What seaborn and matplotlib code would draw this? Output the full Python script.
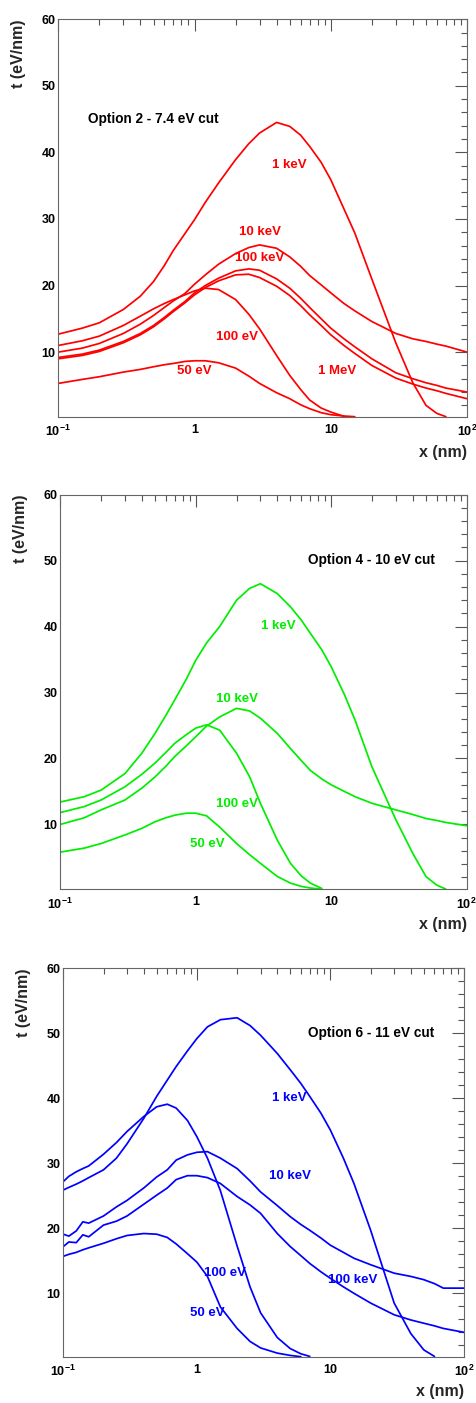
import numpy as np
import pandas as pd
import matplotlib
matplotlib.use("Agg")
import matplotlib.pyplot as plt
import matplotlib.ticker as mticker
import seaborn as sns

# ---------------------------------------------------------------
# Datos (x en nm, t en eV/nm)
# ---------------------------------------------------------------
N = None

# Option 2 - 7.4 eV cut (rojo)
x_opt2 = [0.1, 0.15, 0.2, 0.3, 0.4, 0.5, 0.6, 0.7, 0.85, 1, 1.2, 1.5, 2, 2.5, 3,
          4, 5, 6, 7, 8.5, 10, 12.5, 15, 20, 30, 40, 50, 60, 70, 100]
opt2_1kev = [12.7, 13.6, 14.4, 16.4, 18.4, 20.6, 23.0, 25.3, 27.8, 29.9, 32.5, 35.4, 38.9, 41.3, 42.9,
             44.5, 43.9, 42.6, 40.9, 38.5, 35.9, 31.5, 27.9, 21.0, 11.4, 5.4, 2.0, 0.8, 0.3, N]
opt2_10kev = [10.0, 10.6, 11.3, 12.8, 14.2, 15.5, 16.7, 17.7, 18.8, 20.2, 21.6, 23.2, 24.8, 25.7, 26.1,
              25.6, 24.3, 22.9, 21.5, 20.1, 18.9, 17.3, 16.2, 14.6, 12.8, 12.0, 11.6, 11.2, 10.9, 10.0]
opt2_100kev = [9.2, 9.7, 10.3, 11.6, 12.8, 14.0, 15.2, 16.3, 17.6, 18.9, 20.0, 21.1, 22.2, 22.5, 22.3,
               21.0, 19.6, 18.1, 16.7, 15.0, 13.6, 12.0, 10.8, 9.0, 6.9, 6.0, 5.4, 5.0, 4.6, 4.0]
opt2_1mev = [9.0, 9.5, 10.1, 11.4, 12.6, 13.8, 15.0, 16.1, 17.4, 18.6, 19.7, 20.7, 21.6, 21.7, 21.2,
             19.9, 18.5, 17.0, 15.6, 14.0, 12.6, 11.0, 9.8, 8.0, 6.1, 5.2, 4.6, 4.2, 3.8, 3.0]
opt2_100ev = [11.0, 11.7, 12.4, 14.0, 15.4, 16.5, 17.3, 17.9, 18.6, 19.2, 19.6, 19.4, 17.9, 15.7, 13.5,
              9.5, 6.5, 4.4, 2.8, 1.6, 1.0, 0.35, N, N, N, N, N, N, N, N]
opt2_50ev = [5.3, 5.9, 6.3, 7.0, 7.4, 7.8, 8.1, 8.3, 8.6, 8.7, 8.7, 8.4, 7.6, 6.4, 5.3,
             3.9, 3.0, 2.1, 1.5, 0.9, 0.6, 0.4, 0.3, N, N, N, N, N, N, N]

# Option 4 - 10 eV cut (verde)
x_opt4 = x_opt2
opt4_1kev = [13.4, 14.2, 15.2, 17.7, 20.8, 23.8, 26.5, 28.9, 32.0, 34.9, 37.5, 40.0, 44.0, 45.8, 46.5,
             45.0, 43.0, 41.0, 39.0, 36.5, 33.9, 29.7, 25.8, 18.7, 10.7, 5.6, 2.1, 0.8, 0.2, N]
opt4_10kev = [10.0, 11.0, 12.2, 13.7, 15.5, 17.2, 18.8, 20.3, 21.9, 23.3, 24.9, 26.3, 27.6, 27.2, 26.1,
              23.8, 21.5, 19.7, 18.2, 16.9, 16.0, 15.0, 14.2, 13.2, 12.2, 11.5, 10.9, 10.6, 10.3, 9.8]
opt4_100ev = [11.8, 12.7, 13.7, 15.7, 17.6, 19.3, 20.9, 22.3, 23.6, 24.6, 25.1, 24.3, 20.8, 17.2, 13.2,
              7.6, 4.1, 2.2, 1.1, 0.3, N, N, N, N, N, N, N, N, N, N]
opt4_50ev = [5.8, 6.4, 7.1, 8.4, 9.4, 10.4, 11.0, 11.4, 11.7, 11.7, 11.3, 9.6, 7.1, 5.4, 4.1,
             2.1, 1.1, 0.6, 0.35, 0.2, N, N, N, N, N, N, N, N, N, N]

# Option 6 - 11 eV cut (azul)
x_opt6 = [0.1, 0.11, 0.125, 0.14, 0.155, 0.2, 0.25, 0.3, 0.4, 0.5, 0.6, 0.7, 0.85, 1, 1.2, 1.5, 2, 2.5, 3,
          4, 5, 6, 7, 8.5, 10, 12.5, 15, 20, 30, 40, 50, 60, 70, 100]
opt6_1kev = [25.9, 26.3, 26.8, 27.3, 27.8, 29.0, 30.8, 33.0, 36.9, 40.3, 42.8, 44.9, 47.3, 49.2, 51.0, 52.1, 52.4, 51.2, 49.7,
             46.9, 44.4, 42.3, 40.3, 37.7, 35.1, 30.8, 26.9, 19.7, 8.5, 3.8, 1.3, 0.3, N, N]
opt6_10kev = [19.1, 18.8, 19.6, 21.0, 20.8, 21.9, 23.3, 24.3, 26.2, 27.9, 29.0, 30.5, 31.3, 31.7, 31.8, 30.8, 29.2, 27.3, 25.6,
              23.5, 21.8, 20.6, 19.7, 18.5, 17.4, 16.3, 15.4, 14.4, 13.1, 12.6, 12.1, 11.5, 10.8, 10.8]
opt6_100kev = [17.2, 17.9, 17.8, 19.0, 18.7, 20.5, 21.1, 21.9, 23.7, 25.1, 26.2, 27.5, 28.1, 28.1, 27.8, 26.9, 24.9, 23.6, 22.3,
               19.2, 17.2, 15.8, 14.6, 13.3, 12.3, 11.0, 10.0, 8.5, 6.7, 5.9, 5.4, 5.0, 4.6, 4.0]
opt6_100ev = [27.2, 28.0, 28.7, 29.2, 29.6, 31.4, 33.2, 34.9, 37.2, 38.7, 39.1, 38.5, 36.6, 34.1, 30.8, 25.8, 17.3, 11.0, 7.0,
              3.2, 1.5, 0.7, 0.3, N, N, N, N, N, N, N, N, N, N, N]
opt6_50ev = [15.7, 16.0, 16.3, 16.7, 17.0, 17.7, 18.4, 18.9, 19.2, 19.1, 18.6, 17.6, 16.1, 14.8, 12.6, 7.9, 4.6, 2.6, 1.6,
             0.8, 0.45, 0.25, N, N, N, N, N, N, N, N, N, N, N, N]

# Etiquetas: (texto, x, y)
labels_opt2 = [("1 keV", 4.95, 38.1), ("10 keV", 3.03, 28.1), ("100 keV", 3.03, 24.2),
               ("100 eV", 2.06, 12.2), ("50 eV", 1.0, 7.2), ("1 MeV", 11.1, 7.2)]
labels_opt4 = [("1 keV", 4.05, 40.1), ("10 keV", 2.02, 29.0), ("100 eV", 2.02, 13.1), ("50 eV", 1.21, 7.0)]
labels_opt6 = [("1 keV", 4.89, 40.0), ("10 keV", 4.97, 28.0), ("100 keV", 14.7, 12.1),
               ("100 eV", 1.62, 13.1), ("50 eV", 1.19, 7.0)]


def armar_df(x, curvas):
    filas = []
    for nombre, vals in curvas.items():
        for xi, yi in zip(x, vals):
            if yi is not None:
                filas.append({"x": xi, "t": yi, "energia": nombre})
    return pd.DataFrame(filas)


paneles = [
    dict(df=armar_df(x_opt2, {"1 keV": opt2_1kev, "10 keV": opt2_10kev, "100 keV": opt2_100kev,
                              "1 MeV": opt2_1mev, "100 eV": opt2_100ev, "50 eV": opt2_50ev}),
         color="#ff0000", labels=labels_opt2, title="Option 2 - 7.4 eV cut", tpos=(0.166, 45.0),
         rect=[0.1225, 0.7030, 0.8586, 0.2833], ymin=0.3),
    dict(df=armar_df(x_opt4, {"1 keV": opt4_1kev, "10 keV": opt4_10kev,
                              "100 eV": opt4_100ev, "50 eV": opt4_50ev}),
         color="#00ee00", labels=labels_opt4, title="Option 4 - 10 eV cut", tpos=(6.75, 50.1),
         rect=[0.1267, 0.3661, 0.8538, 0.2813], ymin=0.15),
    dict(df=armar_df(x_opt6, {"1 keV": opt6_1kev, "10 keV": opt6_10kev, "100 keV": opt6_100kev,
                              "100 eV": opt6_100ev, "50 eV": opt6_50ev}),
         color="#0000ff", labels=labels_opt6, title="Option 6 - 11 eV cut", tpos=(6.79, 50.0),
         rect=[0.1330, 0.0330, 0.8418, 0.2768], ymin=0.25),
]

sns.set_theme(style="white")
plt.rcParams["font.family"] = ["Liberation Sans", "DejaVu Sans"]
plt.rcParams["font.weight"] = "bold"
plt.rcParams["mathtext.fontset"] = "custom"
plt.rcParams["mathtext.rm"] = "Liberation Sans:bold"
plt.rcParams["mathtext.default"] = "rm"

fig = plt.figure(figsize=(4.76, 14.03), dpi=100)

for p in paneles:
    ax = fig.add_axes(p["rect"])
    sns.lineplot(data=p["df"], x="x", y="t", units="energia", estimator=None, sort=False,
                 color=p["color"], linewidth=1.25, ax=ax, legend=False)
    ax.set_xscale("log")
    ax.set_xlim(0.1, 100)
    ax.set_ylim(p["ymin"], 60)

    ax.xaxis.set_major_locator(mticker.FixedLocator([0.1, 1, 10, 100]))
    ax.xaxis.set_major_formatter(mticker.FixedFormatter(["10$^{-1}$", "1", "10", "10$^{2}$"]))
    ax.xaxis.set_minor_locator(mticker.LogLocator(base=10, subs=np.arange(2, 10)))
    ax.xaxis.set_minor_formatter(mticker.NullFormatter())
    ax.yaxis.set_major_locator(mticker.MultipleLocator(10))
    ax.yaxis.set_minor_locator(mticker.MultipleLocator(2))

    ax.tick_params(which="both", direction="in", top=True, right=True, colors="#555555",
                   labelcolor="black", width=0.8)
    ax.tick_params(which="major", length=8.5)
    ax.tick_params(which="minor", length=4.5)
    ax.tick_params(axis="x", which="major", pad=5, labelsize=9)
    ax.tick_params(axis="y", which="major", pad=2, labelsize=9)
    for s in ax.spines.values():
        s.set_color("#666666")
        s.set_linewidth(0.8)
    ax.grid(False)

    ax.set_xlabel("x (nm)", loc="right", fontsize=11.5, fontweight="bold")
    ax.xaxis.set_label_coords(1.0, -0.07)
    ax.set_ylabel("t (eV/nm)", loc="top", fontsize=11.5, fontweight="bold")
    ax.yaxis.set_label_coords(-0.08, 1.0)

    ax.text(p["tpos"][0], p["tpos"][1], p["title"], ha="left", va="center",
            fontsize=9.8, fontweight="bold", color="black")
    for txt, lx, ly in p["labels"]:
        ax.text(lx, ly, txt, ha="center", va="center", fontsize=9.5,
                fontweight="bold", color=p["color"])

fig.savefig("out.png", dpi=100)
plt.close(fig)
